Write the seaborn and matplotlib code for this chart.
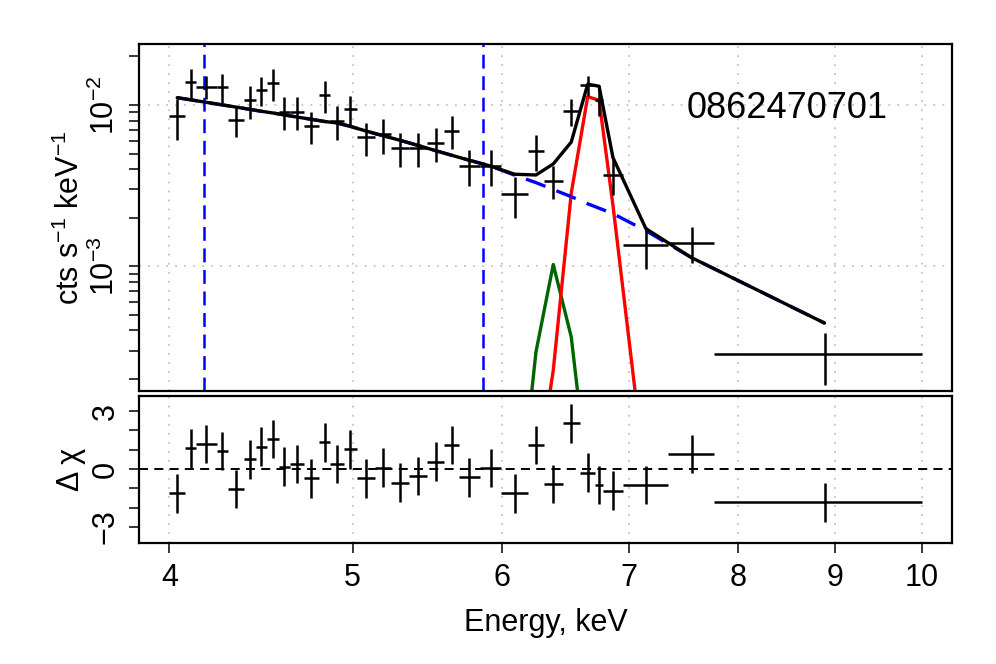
"""
Spectrum plot for obs 0862470701: folded data, continuum + Fe line model,
and residuals in a lower panel.
"""

import numpy as np
import pandas as pd
import matplotlib

matplotlib.use("Agg")
import matplotlib.pyplot as plt
from matplotlib import font_manager
from matplotlib.ticker import FixedLocator, LogLocator, NullFormatter, NullLocator
import seaborn as sns

# --- data -----------------------------------------------------------------
# bin edges, keV (32 grouped channels)
edges = [4.000, 4.077, 4.132, 4.238, 4.297, 4.382, 4.444, 4.505, 4.570, 4.633,
         4.711, 4.800, 4.867, 4.947, 5.026, 5.136, 5.237, 5.358, 5.473, 5.591,
         5.690, 5.840, 5.991, 6.191, 6.312, 6.457, 6.595, 6.721, 6.781, 6.951,
         7.343, 7.769, 10.000]

# folded count rate, cts/s/keV, and 1-sigma errors
rate = [0.0085, 0.0138, 0.0130, 0.0129, 0.0081, 0.0107, 0.0124, 0.0136, 0.0091, 0.0091,
        0.0074, 0.0115, 0.0080, 0.0094, 0.0063, 0.0066, 0.0054, 0.0054, 0.0058, 0.0069,
        0.0042, 0.0042, 0.0028, 0.0052, 0.0034, 0.0092, 0.0133, 0.0108, 0.0037, 0.00135,
        0.0014, 0.000284]
rate_err = [0.00245, 0.0030, 0.0021, 0.0026, 0.0018, 0.0025, 0.0026, 0.0030, 0.0021, 0.0021,
            0.0017, 0.0026, 0.0019, 0.0019, 0.00146, 0.0016, 0.00128, 0.0013, 0.00138, 0.0016,
            0.00105, 0.00105, 0.0008, 0.00128, 0.0008, 0.00175, 0.0019, 0.0023, 0.00093, 0.00039,
            0.00036, 0.0001]

# total folded model
model_total = [0.01110, 0.01077, 0.01038, 0.01001, 0.00970, 0.00939, 0.00914, 0.00892,
               0.00868, 0.00842, 0.00815, 0.00790, 0.00773, 0.00737, 0.00690, 0.00646,
               0.00604, 0.00561, 0.00521, 0.00488, 0.00454, 0.00418, 0.00372, 0.00368,
               0.00431, 0.00589, 0.01346, 0.01307, 0.00472, 0.00171, 0.00113, 0.000444]

# continuum component
continuum = [0.01110, 0.01077, 0.01038, 0.01001, 0.00970, 0.00939, 0.00914, 0.00892,
             0.00868, 0.00842, 0.00815, 0.00790, 0.00773, 0.00737, 0.00690, 0.00646,
             0.00604, 0.00561, 0.00521, 0.00488, 0.00454, 0.00418, 0.00367, 0.00330,
             0.00299, 0.00270, 0.00244, 0.00229, 0.00212, 0.00166, 0.00113, 0.000444]

# line components (only bins where they are non-negligible)
fe_hot_first = 23
fe_hot = [4.5e-5, 2.26e-4, 2.84e-3, 1.126e-2, 1.07e-2, 2.39e-3, 4.6e-5]
fe_cold_first = 22
fe_cold = [1.7e-5, 2.94e-4, 1.025e-3, 3.64e-4, 4.8e-5]

# residuals, (data - model) / error
delchi = [-1.26, 1.07, 1.30, 0.93, -1.04, 0.50, 1.16, 1.55, 0.12, 0.26,
          -0.48, 1.38, 0.26, 1.02, -0.48, 0.07, -0.71, -0.36, 0.38, 1.24,
          -0.43, 0.04, -1.26, 1.24, -0.78, 2.37, -0.19, -0.83, -1.12, -0.83,
          0.78, -1.73]

# region markers, keV
marker_lines = [4.17, 5.86]
obs_id = "0862470701"

x_ticks = [4, 5, 6, 7, 8, 9, 10]


def main():
    sns.set_theme(style="white")
    names = {f.name for f in font_manager.fontManager.ttflist}
    narrow = "Liberation Sans Narrow" if "Liberation Sans Narrow" in names else "Liberation Sans"
    plt.rcParams["font.family"] = [narrow, "DejaVu Sans"]
    plt.rcParams["mathtext.fontset"] = "custom"
    plt.rcParams["mathtext.rm"] = narrow
    plt.rcParams["mathtext.it"] = narrow
    plt.rcParams["mathtext.default"] = "regular"
    plt.rcParams["lines.scale_dashes"] = False
    for key in ("text.color", "axes.labelcolor", "xtick.color", "ytick.color"):
        plt.rcParams[key] = "black"

    e = np.array(edges)
    e_lo, e_hi = e[:-1], e[1:]
    e_mid = (e_lo + e_hi) / 2

    spec = pd.DataFrame({"energy": e_mid, "rate": rate, "err": rate_err,
                         "model": model_total, "cont": continuum, "delchi": delchi})
    hot = pd.DataFrame({"energy": e_mid[fe_hot_first:fe_hot_first + len(fe_hot)], "flux": fe_hot})
    cold = pd.DataFrame({"energy": e_mid[fe_cold_first:fe_cold_first + len(fe_cold)], "flux": fe_cold})

    fig = plt.figure(figsize=(9.96, 6.64), dpi=100)
    ax_top = fig.add_axes([0.1399, 0.4111, 0.8156, 0.5226])
    ax_res = fig.add_axes([0.1399, 0.1827, 0.8156, 0.2209])

    grid_kw = dict(color="#c4c4c4", linestyle=(0, (1.3, 5.2)), linewidth=1.3)

    # --- top panel: spectrum + model
    ax_top.set_xscale("log")
    ax_top.set_yscale("log")
    ax_top.set_xlim(3.8565, 10.372)
    ax_top.set_ylim(1.683e-4, 2.388e-2)

    for xv in x_ticks:
        ax_top.axvline(xv, zorder=0, **grid_kw)
    for yv in [1e-2, 1e-3]:
        ax_top.axhline(yv, zorder=0, **grid_kw)

    for xv in marker_lines:
        ax_top.axvline(xv, color="blue", linewidth=1.8, linestyle=(0, (10, 5.5)), zorder=1)

    sns.lineplot(data=cold, x="energy", y="flux", color="darkgreen", linewidth=2.4, ax=ax_top, zorder=2)
    sns.lineplot(data=hot, x="energy", y="flux", color="red", linewidth=2.4, ax=ax_top, zorder=2)
    sns.lineplot(data=spec, x="energy", y="cont", color="blue", linewidth=2.4,
                 linestyle=(0, (15, 8.5)), ax=ax_top, zorder=3)
    sns.lineplot(data=spec, x="energy", y="model", color="black", linewidth=2.4, ax=ax_top, zorder=4)
    ax_top.errorbar(e_mid, rate, yerr=rate_err, xerr=[e_mid - e_lo, e_hi - e_mid],
                    fmt="none", ecolor="black", elinewidth=1.8, capsize=0, zorder=5)

    ax_top.text(0.674, 0.786, obs_id, transform=ax_top.transAxes, fontsize=26,
                family=["Liberation Sans", "DejaVu Sans"], ha="left", va="baseline")

    ax_top.yaxis.set_major_locator(LogLocator(base=10, numticks=10))
    ax_top.yaxis.set_minor_locator(LogLocator(base=10, subs=np.arange(2, 10), numticks=20))
    ax_top.yaxis.set_minor_formatter(NullFormatter())
    ax_top.xaxis.set_major_locator(FixedLocator(x_ticks))
    ax_top.xaxis.set_minor_locator(NullLocator())
    ax_top.tick_params(axis="x", which="both", bottom=False, labelbottom=False)
    ax_top.tick_params(axis="y", which="both", left=True, direction="out", length=7.5,
                       width=1.1, labelsize=22, pad=6, labelrotation=90)
    ax_top.set_ylabel(r"cts s$^{-1}$ keV$^{-1}$", fontsize=22)
    ax_top.yaxis.set_label_coords(-0.066, 0.5)
    ax_top.set_xlabel("")

    # --- bottom panel: residuals
    ax_res.set_xscale("log")
    ax_res.set_xlim(3.8565, 10.372)
    ax_res.set_ylim(-3.82, 3.78)
    for xv in x_ticks:
        ax_res.axvline(xv, zorder=0, **grid_kw)
    ax_res.axhline(0, color="black", linewidth=1.4, linestyle=(0, (6.5, 4.5)), zorder=1)
    ax_res.errorbar(e_mid, spec["delchi"], yerr=1.0, xerr=[e_mid - e_lo, e_hi - e_mid],
                    fmt="none", ecolor="black", elinewidth=1.8, capsize=0, zorder=5)

    ax_res.xaxis.set_major_locator(FixedLocator(x_ticks))
    ax_res.xaxis.set_minor_locator(NullLocator())
    ax_res.set_xticklabels([str(t) for t in x_ticks])
    ax_res.set_yticks(range(-3, 4))
    ax_res.set_yticklabels(["\u22123", "", "", "0", "", "", "3"])
    ax_res.tick_params(axis="both", which="both", bottom=True, left=True, direction="out",
                       length=7.5, width=1.1, labelsize=22, pad=6)
    ax_res.tick_params(axis="x", pad=7)
    ax_res.tick_params(axis="y", labelrotation=90)
    ax_res.set_xlabel("Energy, keV", fontsize=22, labelpad=11)
    ax_res.set_ylabel("\u0394 \u03c7", fontsize=22)
    ax_res.yaxis.set_label_coords(-0.066, 0.5)

    for ax in (ax_top, ax_res):
        for sp in ax.spines.values():
            sp.set_linewidth(1.6)
            sp.set_color("black")
        for lab in ax.get_yticklabels():
            lab.set_verticalalignment("center")

    fig.savefig("out.png", dpi=100)


if __name__ == "__main__":
    main()
